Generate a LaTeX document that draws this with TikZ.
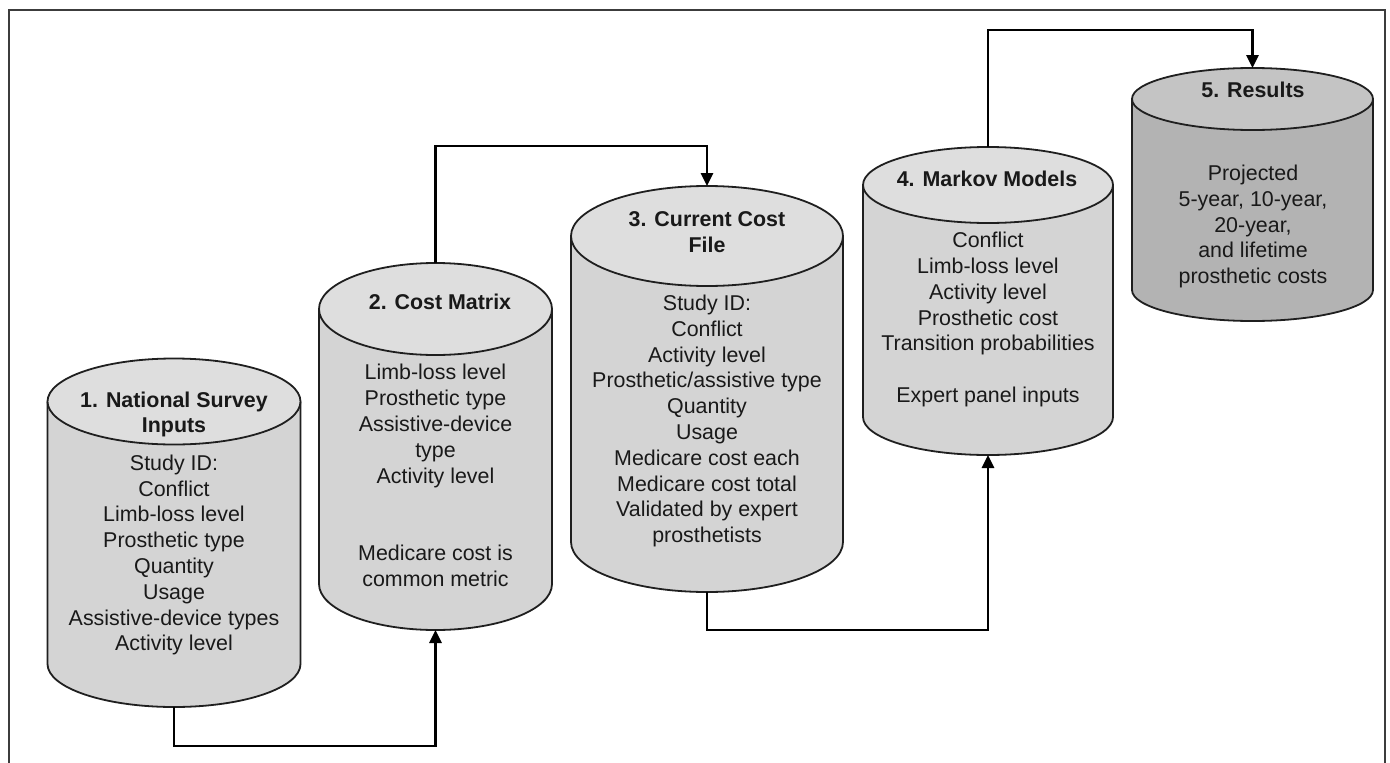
\documentclass[tikz,border=0pt]{standalone}
\usepackage{fontspec}
\setmainfont{Liberation Sans}
\usetikzlibrary{arrows.meta}
\definecolor{bodyA}{HTML}{D4D4D4}
\definecolor{topA}{HTML}{DEDEDE}
\definecolor{bodyB}{HTML}{B3B3B3}
\definecolor{topB}{HTML}{C4C4C4}
\definecolor{framegray}{HTML}{3C3C3C}
\newcommand\mycyl[7]{%
  \fill[#6] (#1-#2,#3) -- (#1-#2,#4) arc[start angle=180,end angle=360,x radius=#2pt,y radius=#5pt] -- (#1+#2,#3) -- cycle;
  \draw[cylline] (#1-#2,#3) -- (#1-#2,#4) arc[start angle=180,end angle=360,x radius=#2pt,y radius=#5pt] -- (#1+#2,#3);
  \filldraw[cylline,fill=#7] (#1,#3) ellipse[x radius=#2pt,y radius=#5pt];
}
\begin{document}
\begin{tikzpicture}[x=1pt,y=-1pt,
  cylline/.style={draw=black!88,line width=1.8pt},
  conn/.style={draw=black,line width=2.6pt,-{Triangle[length=13pt,width=12pt]}},
  frameline/.style={draw=framegray,line width=2.6pt},
  ttl/.style={font=\fontsize{21.4pt}{25.8pt}\selectfont\bfseries,align=center,inner sep=0pt,text=black!90},
  bod/.style={font=\fontsize{21.4pt}{25.8pt}\selectfont,align=center,inner sep=0pt,text=black!90}]
\useasboundingbox (0,0) rectangle (1390,763);
\fill[white] (0,0) rectangle (1390,763);
\draw[frameline] (9,763) -- (9,10) -- (1385,10) -- (1385,763);

% cylinders: cx, rx, ytop, ybottom, ry, body, top
\mycyl{174}{126.5}{401.5}{664}{43}{bodyA}{topA}
\mycyl{435.5}{116.5}{309}{584}{46}{bodyA}{topA}
\mycyl{707}{136}{236}{542}{50}{bodyA}{topA}
\mycyl{988}{125}{185}{417}{38}{bodyA}{topA}
\mycyl{1252.5}{120.5}{99}{290}{31}{bodyB}{topB}

\coordinate (c1top) at (174,358.5);
\coordinate (c1bot) at (174,707);
\coordinate (c2top) at (435.5,263);
\coordinate (c2bot) at (435.5,630);
\coordinate (c3top) at (707,186);
\coordinate (c3bot) at (707,592);
\coordinate (c4top) at (988,147);
\coordinate (c4bot) at (988,455);
\coordinate (c5top) at (1252.5,68);

% texts
\node[ttl] (t1) at (174,414.5) {1. National Survey\\Inputs};
\node[bod] (b1) at (174,555) {Study ID:\\Conflict\\Limb-loss level\\Prosthetic type\\Quantity\\Usage\\Assistive-device types\\Activity level};
\node[ttl] (t2) at (440,302) {2. Cost Matrix};
\node[bod] (b2) at (435.5,475.5) {Limb-loss level\\Prosthetic type\\Assistive-device\\type\\Activity level\\[51.6pt]Medicare cost is\\common metric};
\node[ttl] (t3) at (707,232) {3. Current Cost\\File};
\node[bod] (b3) at (707,421) {Study ID:\\Conflict\\Activity level\\Prosthetic/assistive type\\Quantity\\Usage\\Medicare cost each\\Medicare cost total\\Validated by expert\\prosthetists};
\node[ttl] (t4) at (987,179) {4. Markov Models};
\node[bod] (b4) at (988,319.5) {Conflict\\Limb-loss level\\Activity level\\Prosthetic cost\\Transition probabilities\\[25.8pt]Expert panel inputs};
\node[ttl] (t5) at (1253,90) {5. Results};
\node[bod] (b5) at (1253,226.5) {Projected\\5-year, 10-year,\\20-year,\\and lifetime\\prosthetic costs};

% connectors
\draw[conn] (c1bot) -- ++(0,39) -| (c2bot);
\draw[conn] (c2top) -- ++(0,-117) -| (c3top);
\draw[conn] (c3bot) -- ++(0,38) -| (c4bot);
\draw[conn] (c4top) -- ++(0,-117) -| (c5top);
\end{tikzpicture}
\end{document}
